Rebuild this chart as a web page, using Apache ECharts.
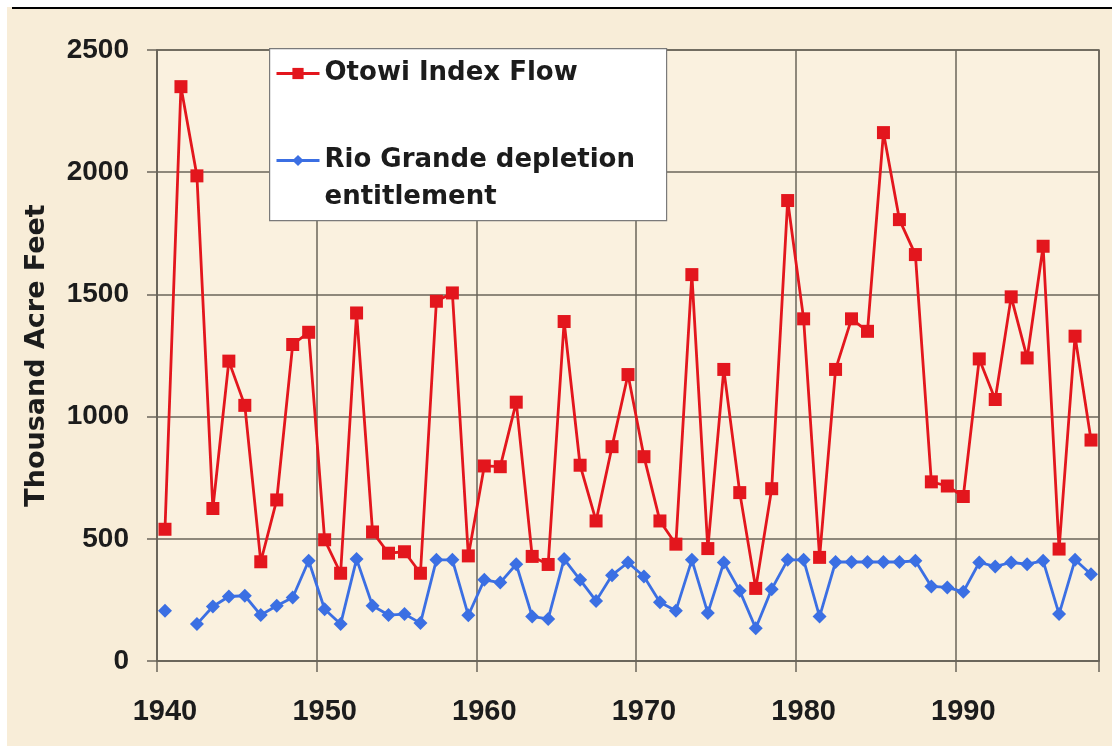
<!DOCTYPE html>
<html>
<head>
<meta charset="utf-8">
<script src="https://cdn.jsdelivr.net/npm/echarts@6/dist/echarts.min.js"></script>
<style>
  html, body { margin: 0; padding: 0; background: #fff; }
  #chart { width: 1112px; height: 746px; }
</style>
</head>
<body>
<div id="chart"></div>
<script>
// 年份 (category axis)
var years = ['1940','1941','1942','1943','1944','1945','1946','1947','1948','1949',
  '1950','1951','1952','1953','1954','1955','1956','1957','1958','1959',
  '1960','1961','1962','1963','1964','1965','1966','1967','1968','1969',
  '1970','1971','1972','1973','1974','1975','1976','1977','1978','1979',
  '1980','1981','1982','1983','1984','1985','1986','1987','1988','1989',
  '1990','1991','1992','1993','1994','1995','1996','1997','1998'];

// Otowi Index Flow (thousand acre feet)
var otowiFlow = [539, 2350, 1985, 624, 1227, 1046, 406, 659, 1295, 1345,
  496, 359, 1424, 528, 441, 447, 359, 1472, 1506, 430,
  798, 795, 1059, 428, 395, 1389, 801, 573, 877, 1172,
  836, 573, 478, 1581, 460, 1193, 689, 297, 705, 1884,
  1400, 424, 1193, 1400, 1349, 2162, 1806, 1663, 733, 716,
  673, 1236, 1070, 1490, 1240, 1697, 458, 1329, 904];

// Rio Grande depletion entitlement
var depletion = [206, null, 151, 223, 264, 267, 188, 226, 260, 410,
  212, 151, 417, 226, 188, 192, 155, 414, 414, 187,
  332, 321, 396, 182, 172, 417, 332, 246, 351, 403,
  346, 240, 206, 414, 196, 403, 287, 134, 294, 414,
  414, 182, 405, 405, 405, 405, 405, 410, 305, 301,
  283, 403, 387, 403, 396, 410, 192, 414, 355];

var yTicks = [0, 500, 1000, 1500, 2000, 2500];

var RED = '#e3161d';
var BLUE = '#3b6fe3';
var GRID = '#6a645a';
var TEXT = '#1c1c1c';
var NAME_FLOW = 'Otowi Index Flow';
var NAME_DEPL = 'Rio Grande depletion\nentitlement';

var myEcharts = echarts.init(document.getElementById('chart'));

myEcharts.setOption({
  animation: false,
  backgroundColor: '#f8edd8',
  graphic: [
    { type: 'rect', left: 0, top: 0, shape: { width: 1112, height: 7 }, style: { fill: '#fff' }, silent: true },
    { type: 'rect', left: 0, top: 0, shape: { width: 7, height: 746 }, style: { fill: '#fff' }, silent: true },
    { type: 'rect', left: 12, top: 7, shape: { width: 1100, height: 2 }, style: { fill: '#000' }, silent: true },
    { type: 'rect', left: 269, top: 48, z: 5,
      shape: { width: 397, height: 172 },
      style: { fill: '#ffffff', stroke: '#7a7a7a', lineWidth: 1.2 }, silent: true }
  ],
  legend: {
    orient: 'vertical',
    left: 275,
    top: 55,
    padding: 0,
    itemGap: 13,
    itemWidth: 43,
    itemHeight: 14,
    z: 10,
    // blank first line keeps the icon beside "Rio Grande depletion"
    formatter: function (name) {
      return name === NAME_DEPL ? ' \n' + name : name;
    },
    textStyle: {
      fontFamily: 'DejaVu Sans',
      fontWeight: 'bold',
      fontSize: 26,
      lineHeight: 37,
      color: TEXT
    },
    data: [
      { name: NAME_FLOW, lineStyle: { width: 3 } },
      { name: NAME_DEPL, lineStyle: { width: 3 } }
    ]
  },
  grid: {
    left: 157,
    top: 50,
    right: 13,
    bottom: 85,
    show: true,
    backgroundColor: '#faf1df',
    borderColor: GRID,
    borderWidth: 1.5
  },
  xAxis: {
    type: 'category',
    data: years,
    boundaryGap: true,
    axisLine: { lineStyle: { color: GRID, width: 1.5 } },
    axisTick: { show: true, interval: 9, length: 11, lineStyle: { color: GRID, width: 1.5 } },
    splitLine: { show: true, interval: 9, lineStyle: { color: GRID, width: 1.5 } },
    axisLabel: {
      interval: 9,
      margin: 36,
      fontFamily: 'Liberation Sans',
      fontWeight: 'bold',
      fontSize: 29,
      color: TEXT
    }
  },
  yAxis: {
    type: 'value',
    min: yTicks[0],
    max: yTicks[yTicks.length - 1],
    interval: 500,
    name: 'Thousand Acre Feet',
    nameLocation: 'middle',
    nameRotate: 90,
    nameGap: 107,
    nameTextStyle: {
      fontFamily: 'DejaVu Sans',
      fontWeight: 'bold',
      fontSize: 27,
      color: TEXT
    },
    axisLine: { show: true, lineStyle: { color: GRID, width: 1.5 } },
    axisTick: { show: true, length: 10, lineStyle: { color: GRID, width: 1.5 } },
    splitLine: { show: true, lineStyle: { color: GRID, width: 1.5 } },
    axisLabel: {
      margin: 28,
      formatter: function (v) { return String(v); },
      fontFamily: 'Liberation Sans',
      fontWeight: 'bold',
      fontSize: 28,
      color: TEXT
    }
  },
  series: [
    {
      name: NAME_FLOW,
      type: 'line',
      data: otowiFlow,
      z: 3,
      showAllSymbol: true,
      symbol: 'rect',
      symbolSize: 13,
      lineStyle: { color: RED, width: 2.8 },
      itemStyle: { color: RED }
    },
    {
      name: NAME_DEPL,
      type: 'line',
      data: depletion,
      z: 2,
      showAllSymbol: true,
      connectNulls: false,
      symbol: 'diamond',
      symbolSize: 14,
      lineStyle: { color: BLUE, width: 2.8 },
      itemStyle: { color: BLUE }
    }
  ]
});
</script>
</body>
</html>
